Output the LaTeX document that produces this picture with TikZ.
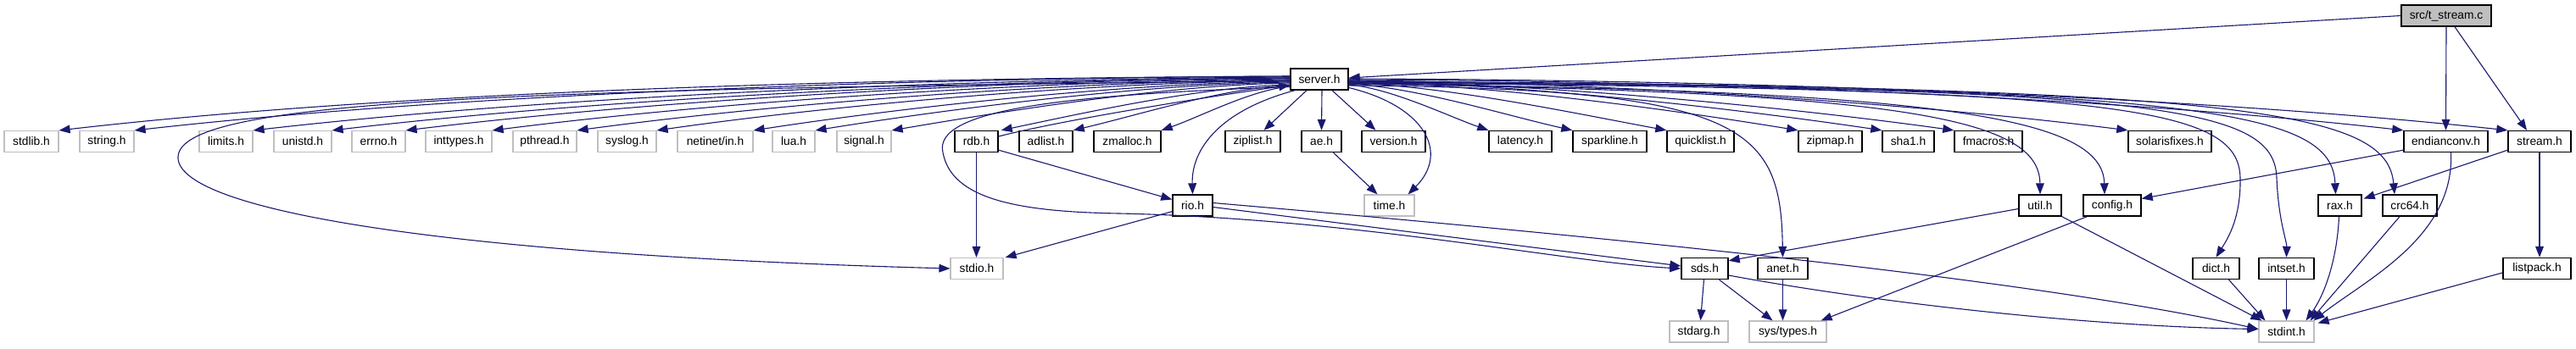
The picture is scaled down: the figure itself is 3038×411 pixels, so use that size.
\documentclass[tikz,border=0pt]{standalone}
\usepackage{fontspec}
\setmainfont{Liberation Sans}
\usetikzlibrary{arrows.meta,calc}
\definecolor{edgec}{HTML}{191970}
\definecolor{greyb}{HTML}{BFBFBF}
\newcommand\nd[6]{%
  \pgfmathsetmacro\ndw{(#4-#3)*0.769}%
  \pgfmathsetmacro\ndx{(#3+#4)/2}%
  \node[#1, minimum width=\ndw pt] (#2) at (\ndx,#5) {#6};}
\tikzset{
  box/.style={draw, rectangle, inner sep=0pt, minimum height=19.2pt, font=\fontsize{10.6}{12}\selectfont, fill=white},
  doc/.style={box, draw=black, line width=1.1pt},
  ext/.style={box, draw=greyb, line width=0.9pt},
  rootn/.style={box, draw=black, fill=greyb, line width=1.1pt},
  dep/.style={draw=edgec, line width=0.85pt, -{Triangle[length=10pt,width=7.5pt]}}
}
\begin{document}
\begin{tikzpicture}[x=0.769pt,y=-0.769pt]
\useasboundingbox (0,0) rectangle (3038,411);
% row 0
\nd{rootn}{tstream}{2832}{2938}{18.5}{src/t\_stream.c}
% row 1
\nd{doc}{server}{1522}{1590}{93.5}{server.h}
% row 2
\nd{ext}{stdlib}{5}{69}{167}{stdlib.h}
\nd{ext}{string}{94}{158}{167}{string.h}
\nd{ext}{limits}{235}{298}{167}{limits.h}
\nd{ext}{unistd}{323}{391}{167}{unistd.h}
\nd{ext}{errno}{415}{478}{167}{errno.h}
\nd{ext}{inttypes}{502}{580}{167}{inttypes.h}
\nd{ext}{pthread}{605}{680}{167}{pthread.h}
\nd{ext}{syslog}{705}{774}{167}{syslog.h}
\nd{ext}{netinet}{799}{888}{167}{netinet/in.h}
\nd{ext}{lua}{911}{961}{167}{lua.h}
\nd{ext}{signal}{987}{1051}{167}{signal.h}
\nd{doc}{rdb}{1126}{1177}{167}{rdb.h}
\nd{doc}{adlist}{1202}{1265}{167}{adlist.h}
\nd{doc}{zmalloc}{1290}{1369}{167}{zmalloc.h}
\nd{doc}{ziplist}{1445}{1510}{167}{ziplist.h}
\nd{doc}{ae}{1535}{1582}{167}{ae.h}
\nd{doc}{version}{1606}{1681}{167}{version.h}
\nd{doc}{latency}{1756}{1830}{167}{latency.h}
\nd{doc}{sparkline}{1855}{1942}{167}{sparkline.h}
\nd{doc}{quicklist}{1966}{2045}{167}{quicklist.h}
\nd{doc}{zipmap}{2121}{2196}{167}{zipmap.h}
\nd{doc}{sha}{2220}{2281}{167}{sha1.h}
\nd{doc}{fmacros}{2305}{2385}{167}{fmacros.h}
\nd{doc}{solaris}{2510}{2608}{167}{solarisfixes.h}
\nd{doc}{endian}{2835}{2934}{167}{endianconv.h}
\nd{doc}{stream}{2958}{3032}{167}{stream.h}
% row 3
\nd{doc}{rio}{1383}{1430}{242.5}{rio.h}
\nd{ext}{time}{1609}{1668}{242.5}{time.h}
\nd{doc}{util}{2381}{2431}{242.5}{util.h}
\nd{doc}{config}{2457}{2525}{242.5}{config.h}
\nd{doc}{rax}{2734}{2785}{242.5}{rax.h}
\nd{doc}{crc}{2810}{2874}{242.5}{crc64.h}
% row 4
\nd{ext}{stdio}{1121}{1183}{317}{stdio.h}
\nd{doc}{sds}{1983}{2038}{317}{sds.h}
\nd{doc}{anet}{2073}{2132}{317}{anet.h}
\nd{doc}{dict}{2586}{2641}{317}{dict.h}
\nd{doc}{intset}{2664}{2729}{317}{intset.h}
\nd{doc}{listpack}{2952}{3032}{317}{listpack.h}
% row 5
\nd{ext}{stdarg}{1969}{2038}{391.5}{stdarg.h}
\nd{ext}{systypes}{2063}{2154}{391.5}{sys/types.h}
\nd{ext}{stdint}{2664}{2729}{391.5}{stdint.h}

% t_stream.c edges
\draw[dep] (tstream.west) -- ($(server.east)+(0,-1.5)$);
\draw[dep] (tstream.south) -- (endian.north);
\draw[dep] ($(tstream.south)+(10,0)$) -- ($(stream.north)+(-15,0)$);

% server.h -> left row
\draw[dep] ($(server.west)+(0,-3.5)$) .. controls (1086,92) and (505,104) .. (stdlib.north east);
\draw[dep] ($(server.west)+(0,-3.5)$) .. controls (1113,92) and (567,108) .. (string.north east);
\draw[dep] ($(server.west)+(0,-2.5)$) .. controls (1155,93) and (665,112) .. (limits.north east);
\draw[dep] ($(server.west)+(0,-1.5)$) .. controls (1183,94) and (730,114) .. (unistd.north east);
\draw[dep] ($(server.west)+(0,-1.5)$) .. controls (1209,94) and (791,116) .. (errno.north east);
\draw[dep] ($(server.west)+(0,-0.5)$) .. controls (1239,95) and (863,118) .. (inttypes.north east);
\draw[dep] ($(server.west)+(0,0.5)$) .. controls (1269,96) and (933,120) .. (pthread.north east);
\draw[dep] ($(server.west)+(0,1.5)$) .. controls (1298,97) and (998,122) .. (syslog.north east);
\draw[dep] ($(server.west)+(0,2.5)$) .. controls (1331,98) and (1077,125) .. (netinet.north east);
\draw[dep] ($(server.west)+(0,3.5)$) .. controls (1354,99) and (1129,127) .. (lua.north east);
\draw[dep] ($(server.west)+(0,4.5)$) .. controls (1381,100) and (1192,130) .. (signal.north east);
\draw[dep] ($(server.west)+(0,6.5)$) .. controls (1418,102) and (1280,133) .. ($(rdb.north east)+(3,0)$);
\draw[dep] ($(server.west)+(0,7.5)$) .. controls (1445,103) and (1342,136) .. (adlist.north east);
\draw[dep] ($(server.west)+(0,8.5)$) .. controls (1476,106) and (1415,138) .. (zmalloc.north east);
% rdb.h -> server.h
\draw[dep] ($(rdb.east)+(0,-6)$) .. controls (1260,140) and (1440,112) .. ($(server.west)+(0,7)$);
% server.h -> stdio.h and sds.h (long curves)
\draw[dep] ($(server.west)+(0,2)$) .. controls (600,105) and (213,118) .. (210,185)
   .. controls (207,245) and (500,300) .. (stdio.west);
\draw[dep] ($(server.west)+(0,9)$) .. controls (1250,112) and (1100,130) .. (1112,180)
   .. controls (1122,235) and (1200,250) .. (1320,252)
   .. controls (1600,258) and (1850,310) .. (sds.west);
% server.h -> below
\draw[dep] ($(server.south)+(-29,0)$) .. controls (1440,130) and (1405,175) .. (rio.north);
\draw[dep] ($(server.south)+(-15,0)$) -- ($(ziplist.north)+(13,0)$);
\draw[dep] ($(server.south)+(3,0)$) -- (ae.north);
\draw[dep] ($(server.south)+(15,0)$) -- ($(version.north)+(-21,0)$);
\draw[dep] ($(server.east)+(0,10)$) .. controls (1680,125) and (1710,180) .. ($(time.north east)+(-8,0)$);
% server.h -> right row
\draw[dep] ($(server.east)+(0,6.5)$) .. controls (1640,104) and (1710,138) .. (latency.north west);
\draw[dep] ($(server.east)+(0,5.5)$) .. controls (1670,103) and (1775,136) .. (sparkline.north west);
\draw[dep] ($(server.east)+(0,4.5)$) .. controls (1703,101) and (1853,133) .. (quicklist.north west);
\draw[dep] ($(server.east)+(0,3.5)$) .. controls (1749,99) and (1962,128) .. (zipmap.north west);
\draw[dep] ($(server.east)+(0,2.5)$) .. controls (1779,98) and (2031,126) .. (sha.north west);
\draw[dep] ($(server.east)+(0,2.5)$) .. controls (1805,98) and (2090,124) .. (fmacros.north west);
\draw[dep] ($(server.east)+(0,1.5)$) .. controls (1866,97) and (2234,119) .. (solaris.north west);
\draw[dep] ($(server.east)+(0,0.5)$) .. controls (1964,95) and (2461,112) .. (endian.north west);
\draw[dep] ($(server.east)+(0,-0.5)$) .. controls (2000,94) and (2548,110) .. (stream.north west);
% server.h -> deeper right nodes
\draw[dep] ($(server.east)+(0,7.5)$) .. controls (2060,104) and (2100,150) .. (anet.north);
\draw[dep] ($(server.east)+(0,5.5)$) .. controls (2250,108) and (2405,140) .. (util.north);
\draw[dep] ($(server.east)+(0,5.5)$) .. controls (2300,106) and (2480,140) .. ($(config.north)+(-9,0)$);
\draw[dep] ($(server.east)+(0,4.5)$) .. controls (2500,104) and (2640,125) .. (2642,210)
   .. controls (2643,260) and (2625,285) .. (dict.north);
\draw[dep] ($(server.east)+(0,3.5)$) .. controls (2550,103) and (2682,125) .. (2685,210)
   .. controls (2687,260) and (2697,285) .. (intset.north);
\draw[dep] ($(server.east)+(0,3.5)$) .. controls (2600,102) and (2750,130) .. ($(rax.north)+(-5,0)$);
\draw[dep] ($(server.east)+(0,2.5)$) .. controls (2650,102) and (2815,130) .. ($(crc.north)+(-18,0)$);

% rdb.h, rio.h, ae.h
\draw[dep] (rdb.south) -- (rdb.south |- stdio.north);
\draw[dep] ($(rdb.south east)+(0,-3)$) -- ($(rio.west)+(0,-7)$);
\draw[dep] ($(rio.south west)+(0,-6)$) -- ($(stdio.north east)+(2,0)$);
\draw[dep] ($(rio.east)+(0,2)$) -- ($(sds.west)+(0,-3)$);
\draw[dep] ($(rio.east)+(0,-3)$) .. controls (1900,280) and (2400,330) .. ($(stdint.west)+(0,-3)$);
\draw[dep] ($(ae.south)+(14,0)$) -- ($(time.north)+(-14,0)$);

% endianconv.h, stream.h
\draw[dep] ($(endian.south west)+(0,-3)$) -- ($(config.east)+(0,-8)$);
\draw[dep] ($(endian.south)+(6,0)$) .. controls (2895,280) and (2790,330) .. ($(stdint.north east)+(-1,0)$);
\draw[dep] ($(stream.south west)+(0,-3)$) -- ($(rax.east)+(2,-8)$);
\draw[dep] (stream.south) -- (stream.south |- listpack.north);

% util.h, config.h
\draw[dep] ($(util.west)+(0,4)$) -- ($(sds.north east)+(0,4)$);
\draw[dep] (util.south east) -- ($(stdint.north west)+(4,0)$);
\draw[dep] ($(config.south west)+(5,0)$) -- ($(systypes.north east)+(-7,0)$);

% sds.h, anet.h
\draw[dep] ($(sds.south)+(-1,0)$) -- ($(stdarg.north)+(2,0)$);
\draw[dep] ($(sds.south)+(17,0)$) -- ($(systypes.north)+(-18,0)$);
\draw[dep] ($(sds.east)+(0,8)$) .. controls (2200,355) and (2450,385) .. ($(stdint.west)+(0,-3)$);
\draw[dep] (anet.south) -- (anet.south |- systypes.north);

% row 3/4 -> stdint.h
\draw[dep] ($(dict.south)+(15,0)$) -- ($(stdint.north west)+(8,0)$);
\draw[dep] (intset.south) -- (stdint.north);
\draw[dep] ($(rax.south)+(-1,0)$) .. controls (2756,310) and (2740,350) .. ($(stdint.north)+(23,0)$);
\draw[dep] ($(crc.south)+(-12,0)$) -- ($(stdint.north east)+(-5,0)$);
\draw[dep] ($(listpack.west)+(0,5)$) -- ($(stdint.north east)+(4,3)$);
\end{tikzpicture}
\end{document}
